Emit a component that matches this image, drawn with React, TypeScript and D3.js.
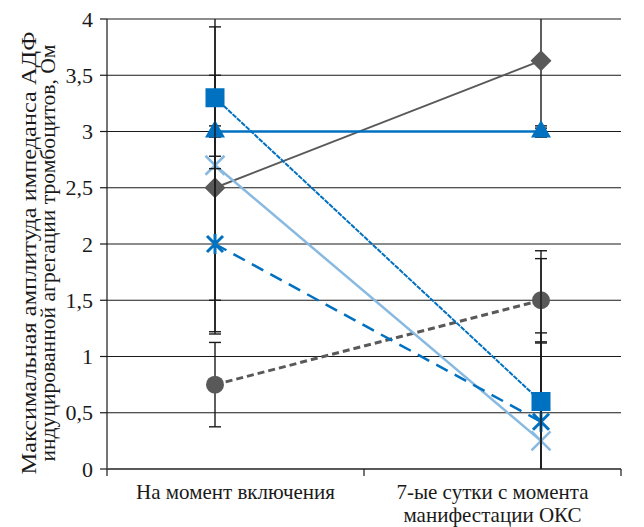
import React from "react";
import * as d3 from "d3";

const categories = ["На момент включения", "7-ые сутки с момента|манифестации ОКС"];
const yTicks = [0, 0.5, 1, 1.5, 2, 2.5, 3, 3.5, 4];
const yTitle = ["Максимальная амплитуда импеданса АДФ", "индуцированной агрегации тромбоцитов, Ом"];

const diamondVals = [2.5, 3.63];
const diamondErr = [1.0, 0.6];
const circleVals = [0.75, 1.5];
const circleErr = [0.375, 0.37];
const squareVals = [3.3, 0.6];
const squareErr = [0.63, 1.34];
const triangleVals = [3.0, 3.0];
const triangleErr = [0.05, 0.05];
const starVals = [2.0, 0.42];
const starErr = [0.78, 0.79];
const crossVals = [2.7, 0.25];
const crossErr = [1.5, 0.87];

const DARK = "#595959";
const BLUE = "#0070C0";
const LIGHT = "#88B9E0";

type S = { vals: number[]; err: number[]; color: string; width: number; dash?: string; marker: string };
const series: S[] = [
  { vals: diamondVals, err: diamondErr, color: DARK, width: 2, marker: "diamond" },
  { vals: circleVals, err: circleErr, color: DARK, width: 3, dash: "7,4", marker: "circle" },
  { vals: crossVals, err: crossErr, color: LIGHT, width: 2.5, marker: "cross" },
  { vals: starVals, err: starErr, color: BLUE, width: 2.5, dash: "13,8", marker: "star" },
  { vals: triangleVals, err: triangleErr, color: BLUE, width: 2.5, marker: "triangle" },
  { vals: squareVals, err: squareErr, color: BLUE, width: 2, dash: "5,1", marker: "square" },
];

const W = 644, H = 527;
const left = 107, right = 621, top = 19, bottom = 469;

function Marker({ type, color, x, y }: { type: string; color: string; x: number; y: number }) {
  const t = `translate(${x},${y})`;
  switch (type) {
    case "diamond":
      return <path transform={t} d="M0,-10.5L10.5,0L0,10.5L-10.5,0Z" fill={color} />;
    case "circle":
      return <circle cx={x} cy={y} r={9} fill={color} />;
    case "square":
      return <rect x={x - 9.5} y={y - 9.5} width={19} height={19} fill={color} />;
    case "triangle":
      return <path transform={t} d="M0,-11.5L10,6L-10,6Z" fill={color} />;
    case "star":
      return <path transform={t} d="M-8,-8L8,8M-8,8L8,-8M0,-10L0,10" stroke={color} strokeWidth={3} fill="none" />;
    case "cross":
      return <path transform={t} d="M-9.5,-9.5L9.5,9.5M-9.5,9.5L9.5,-9.5" stroke={color} strokeWidth={2.5} fill="none" />;
  }
  return null;
}

export default function App() {
  const y = d3.scaleLinear().domain([0, 4]).range([bottom, top]);
  const xBand = d3.scaleBand<number>().domain(categories.map((_, i) => i)).range([left, right]);
  const xPt = d3.scalePoint<number>().domain(categories.map((_, i) => i)).range([215, 541]);
  const line = d3.line<number>().x((_, i) => xPt(i)!).y((d) => y(d));
  const font = "'Liberation Serif', 'Times New Roman', serif";
  const bandEdges = [left, ...categories.map((_, i) => xBand(i)! + xBand.bandwidth())];
  const titleY = (top + bottom) / 2 + 9;

  return (
    <div style={{ position: "absolute", left: 0, top: 0 }}>
      <svg width={W} height={H} style={{ display: "block", background: "#fff" }}>
        <defs>
          <clipPath id="plot">
            <rect x={left} y={top} width={right - left} height={bottom - top} />
          </clipPath>
        </defs>
        {yTicks.filter((t) => t > 0).map((t) => (
          <line key={t} x1={left} x2={right} y1={y(t)} y2={y(t)} stroke="#1a1a1a" strokeWidth={1} />
        ))}
        {/* y axis */}
        <line x1={left} x2={left} y1={top} y2={bottom} stroke="#1a1a1a" strokeWidth={1.2} />
        {yTicks.map((t) => (
          <g key={t}>
            <line x1={left - 7} x2={left} y1={y(t)} y2={y(t)} stroke="#1a1a1a" strokeWidth={1.2} />
            <text x={93} y={y(t)} dy="0.35em" textAnchor="end" fontFamily={font} fontSize={22} fill="#1a1a1a">
              {String(t).replace(".", ",")}
            </text>
          </g>
        ))}
        {/* x axis */}
        <line x1={left} x2={right} y1={bottom} y2={bottom} stroke={DARK} strokeWidth={2} />
        {bandEdges.map((e, i) => (
          <line key={i} x1={e} x2={e} y1={bottom} y2={bottom + 7} stroke="#1a1a1a" strokeWidth={1.2} />
        ))}
        {categories.map((c, i) => (
          <text key={i} x={xBand(i)! + xBand.bandwidth() / 2} y={499} textAnchor="middle" fontFamily={font} fontSize={21} fill="#1a1a1a">
            {c.split("|").map((l, j) => (
              <tspan key={j} x={xBand(i)! + xBand.bandwidth() / 2} dy={j === 0 ? 0 : 23}>{l}</tspan>
            ))}
          </text>
        ))}
        {/* y title */}
        <text transform={`translate(36,${titleY}) rotate(-90)`} textAnchor="middle" fontFamily={font} fontSize={21} fill="#1a1a1a">
          <tspan x={0} dy={0} textLength={443} lengthAdjust="spacingAndGlyphs">{yTitle[0]}</tspan>
          <tspan x={0} dy={19} textLength={417} lengthAdjust="spacingAndGlyphs">{yTitle[1]}</tspan>
        </text>
        {/* lines */}
        <g clipPath="url(#plot)">
          {series.map((s, k) => (
            <path key={k} d={line(s.vals)!} fill="none" stroke={s.color} strokeWidth={s.width} strokeDasharray={s.dash} />
          ))}
        </g>
        {series.map((s, k) => (
          <g key={`s${k}`}>
            <g clipPath="url(#plot)">
              {s.vals.map((v, i) => {
                const cx = xPt(i)!;
                const hi = v + s.err[i], lo = v - s.err[i];
                return (
                  <g key={i} stroke="#1a1a1a" strokeWidth={1.4}>
                    <line x1={cx} x2={cx} y1={y(hi)} y2={y(lo)} />
                    <line x1={cx - 6} x2={cx + 6} y1={y(hi)} y2={y(hi)} />
                    <line x1={cx - 6} x2={cx + 6} y1={y(lo)} y2={y(lo)} />
                  </g>
                );
              })}
            </g>
            {s.vals.map((v, i) => (
              <Marker key={`m${i}`} type={s.marker} color={s.color} x={xPt(i)!} y={y(v)} />
            ))}
          </g>
        ))}
      </svg>
    </div>
  );
}
